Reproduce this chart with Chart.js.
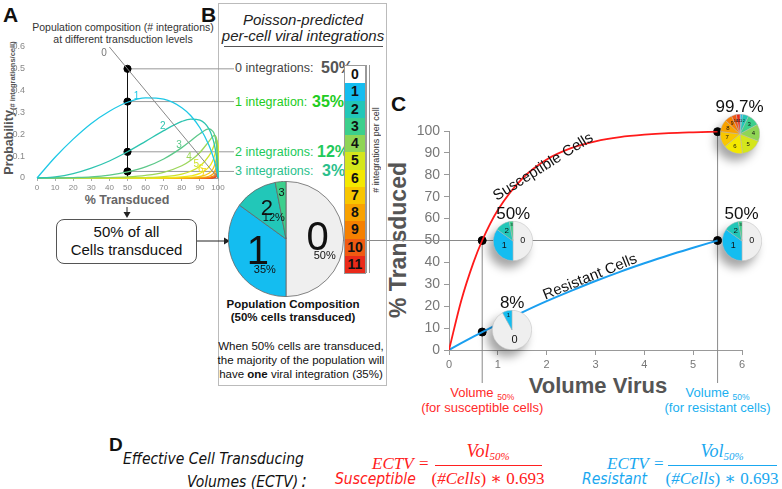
<!DOCTYPE html>
<html>
<head>
<meta charset="utf-8">
<script src="https://cdn.jsdelivr.net/npm/chart.js@4.4.1/dist/chart.umd.min.js"></script>
<style>
  body { margin:0; width:782px; height:489px; position:relative; overflow:hidden; background:#fff;
         font-family:"Liberation Sans", Arial, sans-serif; color:#111; }
  canvas { position:absolute; }
  .t { position:absolute; white-space:nowrap; }
  .c { position:absolute; white-space:nowrap; transform:translate(-50%,-50%); }
  .narrow { font-family:"Liberation Sans Narrow","DejaVu Sans Condensed",sans-serif; font-style:italic; }
  .math { font-family:"Liberation Serif","DejaVu Serif",serif; }
  #bar { position:absolute; left:344px; top:65px; width:20px; height:207px; border:1px solid #999;
         display:flex; flex-direction:column; z-index:3; }
  #bar div { flex:1; text-align:center; font:bold 14px "Liberation Sans",Arial; line-height:17px; }
  .pie { filter:drop-shadow(-5px 7px 5px rgba(0,0,0,0.35)); z-index:4; }
</style>
</head>
<body>

<!-- panel letters -->
<div class="t" style="left:3px;top:3px;font:bold 21px 'Liberation Sans'">A</div>
<div class="t" style="left:201px;top:3px;font:bold 21px 'Liberation Sans'">B</div>
<div class="t" style="left:391px;top:92px;font:bold 21px 'Liberation Sans'">C</div>
<div class="t" style="left:109px;top:434px;font:bold 19px 'Liberation Sans'">D</div>

<!-- panel A text -->
<div class="c" style="left:123px;top:27px;font-size:10.5px;color:#333">Population composition (# integrations)</div>
<div class="c" style="left:123px;top:39px;font-size:10.5px;color:#333">at different transduction levels</div>
<div class="c" style="left:9px;top:108px;transform:translate(-50%,-50%) rotate(-90deg);font:bold 12.5px 'Liberation Sans';color:#555">Probability<span style="font-size:7.5px;vertical-align:-2px">(# integrations/cell)</span></div>
<div class="c" style="left:127px;top:200px;font:bold 12.5px 'Liberation Sans';color:#666">% Transduced</div>
<div class="t" style="left:56px;top:219px;width:139px;height:40px;border:1px solid #555;border-radius:8px;text-align:center;font-size:15px;line-height:18px;padding-top:3px">50% of all<br>Cells transduced</div>

<svg class="t" style="left:0;top:0;z-index:1" width="240" height="270">
  <line x1="127" y1="207" x2="127" y2="213" stroke="#222" stroke-width="1"/>
  <polygon points="123.5,212 130.5,212 127,218" fill="#222"/>
  <line x1="197" y1="241" x2="225" y2="241" stroke="#222" stroke-width="1"/>
  <polygon points="224,237.5 224,244.5 230,241" fill="#222"/>
</svg>

<!-- panel B -->
<div class="t" style="left:218px;top:3px;width:167px;height:381px;border:1px solid #bbb"></div>
<div class="c" style="left:303px;top:19px;font:italic 15px 'Liberation Sans';color:#222">Poisson-predicted</div>
<div class="c" style="left:303px;top:35px;font:italic 15px 'Liberation Sans';color:#222">per-cell viral integrations</div>
<div class="t" style="left:224px;top:46px;width:159px;border-top:1px solid #555"></div>

<div class="t" style="left:235px;top:61px;font-size:12.5px;color:#444">0 integrations:</div>
<div class="t" style="left:321px;top:59px;font:bold 16px 'Liberation Sans';color:#555">50%</div>
<div class="t" style="left:235px;top:95px;font-size:12.5px;color:#22cc22">1 integration:</div>
<div class="t" style="left:312px;top:93px;font:bold 16px 'Liberation Sans';color:#22cc22">35%</div>
<div class="t" style="left:235px;top:145px;font-size:12.5px;color:#22c95a">2 integrations:</div>
<div class="t" style="left:317px;top:143px;font:bold 16px 'Liberation Sans';color:#22c95a">12%</div>
<div class="t" style="left:235px;top:164px;font-size:12.5px;color:#2bbf8c">3 integrations:</div>
<div class="t" style="left:322px;top:162px;font:bold 16px 'Liberation Sans';color:#2bbf8c">3%</div>

<div id="bar"></div>
<div class="t" style="left:366px;top:65px;width:2px;height:208px;border-left:1px solid #999;border-right:1px solid #999;z-index:3"></div>
<div class="c" style="left:376px;top:150px;transform:translate(-50%,-50%) rotate(-90deg);font-size:9px;color:#333;background:#fff;z-index:3">&nbsp;# integrations per cell&nbsp;</div>

<div class="c" style="left:293px;top:304px;font:bold 11.5px 'Liberation Sans'">Population Composition</div>
<div class="c" style="left:293px;top:317px;font:bold 11.5px 'Liberation Sans'">(50% cells transduced)</div>
<div class="c" style="left:301px;top:346px;font-size:11.5px">When 50% cells are transduced,</div>
<div class="c" style="left:301px;top:360px;font-size:11.5px">the majority of the population will</div>
<div class="c" style="left:301px;top:374px;font-size:11.5px">have <b>one</b> viral integration (35%)</div>

<!-- panel C text -->
<div class="c" style="left:398px;top:240px;transform:translate(-50%,-50%) rotate(-90deg);font:bold 23px 'Liberation Sans';color:#555">% Transduced</div>
<div class="c" style="left:598px;top:386px;font:bold 22px 'Liberation Sans';color:#555">Volume Virus</div>

<!-- panel D -->
<div class="t narrow" style="left:123px;top:450px;font-size:15.5px">Effective Cell Transducing</div>
<div class="t narrow" style="left:187px;top:469px;font-size:15.5px">Volumes (ECTV)<span style="font-size:19px;margin-left:3px">:</span></div>

<div class="t narrow" style="left:335px;top:470px;font-size:15.5px;color:#ff2020">Susceptible</div>
<div class="t math" style="left:372px;top:454px;font-style:italic;font-size:17px;color:#ff2020">ECTV</div>
<div class="t math" style="left:419px;top:454px;font-size:17px;color:#ff2020">=</div>
<div class="c math" style="left:488px;top:451px;font-size:18px;color:#ff2020"><i>Vol</i><span style="font-size:11px;vertical-align:-3px"><i>50%</i></span></div>
<div class="t" style="left:435px;top:465px;width:107px;border-top:1.3px solid #ff2020"></div>
<div class="c math" style="left:488px;top:478px;font-size:17px;color:#ff2020">(<i>#Cells</i>) ∗ 0.693</div>

<div class="t narrow" style="left:582px;top:470px;font-size:15.5px;color:#1aa8f0">Resistant</div>
<div class="t math" style="left:607px;top:454px;font-style:italic;font-size:17px;color:#1aa8f0">ECTV</div>
<div class="t math" style="left:654px;top:454px;font-size:17px;color:#1aa8f0">=</div>
<div class="c math" style="left:722px;top:451px;font-size:18px;color:#1aa8f0"><i>Vol</i><span style="font-size:11px;vertical-align:-3px"><i>50%</i></span></div>
<div class="t" style="left:668px;top:465px;width:109px;border-top:1.3px solid #1aa8f0"></div>
<div class="c math" style="left:722px;top:478px;font-size:17px;color:#1aa8f0">(<i>#Cells</i>) ∗ 0.693</div>

<canvas id="chartA" width="234" height="210" style="left:0;top:0;z-index:2"></canvas>
<canvas id="chartC" width="442" height="295" style="left:340px;top:95px;z-index:1"></canvas>
<canvas id="pieB" width="116" height="116" style="left:228px;top:181px;z-index:3"></canvas>

<script>
Chart.defaults.font.family = '"Liberation Sans", Arial, sans-serif';

// ---- panel A: Poisson probability of k integrations vs % transduced ----
const transduced = [0, 10, 20, 30, 40, 50, 60, 70, 80, 85, 90, 95, 97, 98, 99, 99.5, 99.8, 99.9, 100];
const prob0 = [{ x: 40, y: 0.6 }, { x: 100, y: 0 }];
const prob1 = [0, .095, .178, .250, .306, .347, .367, .361, .322, .285, .230, .150, .105, .078, .046, .026, .012, .007, 0];
const prob2 = [0, .005, .020, .045, .078, .120, .168, .217, .259, .270, .265, .225, .184, .153, .106, .069, .039, .024, 0];
const prob3 = [0, 0, .002, .005, .013, .028, .051, .087, .139, .171, .203, .225, .215, .200, .163, .122, .080, .055, 0];
const prob4 = [0, 0, 0, .001, .002, .005, .012, .026, .056, .081, .117, .168, .189, .195, .187, .162, .124, .095, 0];
const prob5 = [0, 0, 0, 0, 0, .001, .002, .006, .018, .031, .054, .101, .132, .153, .172, .172, .154, .131, 0];
const prob6 = [0, 0, 0, 0, 0, 0, 0, .001, .005, .010, .021, .050, .077, .100, .132, .152, .160, .151, 0];
const prob7 = [0, 0, 0, 0, 0, 0, 0, 0, .001, .003, .007, .022, .039, .056, .087, .115, .142, .149, 0];
const prob8 = [0, 0, 0, 0, 0, 0, 0, 0, 0, 0, .002, .008, .017, .027, .050, .076, .110, .129, 0];
const prob9 = [0, 0, 0, 0, 0, 0, 0, 0, 0, 0, 0, .003, .007, .012, .026, .045, .076, .099, 0];
const prob10 = [0, 0, 0, 0, 0, 0, 0, 0, 0, 0, 0, 0, .002, .005, .012, .024, .047, .068, 0];
const prob11 = [0, 0, 0, 0, 0, 0, 0, 0, 0, 0, 0, 0, 0, .002, .005, .012, .027, .043, 0];
const probCurves = [prob1, prob2, prob3, prob4, prob5, prob6, prob7, prob8, prob9, prob10, prob11];

// composition at 50% transduced (percent of cells with 0,1,2,3 integrations)
const halfComposition = [50, 35, 12, 3];
const halfPoint = 50;

// curve labels in A (label, % transduced, probability)
const curveLabelsA = [['0', 37, 0.57], ['1', 55, 0.375], ['2', 69.5, 0.238], ['3', 78.5, 0.151],
                      ['4', 84, 0.096], ['5', 88, 0.064], ['6', 90.5, 0.041], ['7', 92, 0.023]];

const intColors = ['#efefef', '#14bdf0', '#22c7b8', '#3ccf8c', '#8fd555', '#d4e61c',
                   '#f4e800', '#f8c600', '#f8a200', '#f58000', '#f05a12', '#ea2a1a'];
const curveColors = ['#888888', '#1ec8e6', '#2ec4b0', '#5cc88a', '#9cd65a', '#cfe22a',
                     '#eee81a', '#f6cc10', '#f6a810', '#f48414', '#f05a18', '#e8301c'];

// ---- panel C: % transduced vs volume of virus ----
const volume = [0, 0.25, 0.5, 0.68, 1, 1.5, 2, 2.5, 3, 3.5, 4, 4.5, 5, 5.5];
const susceptible = [0, 22.5, 39.9, 50, 63.9, 78.3, 87.0, 92.2, 95.3, 97.2, 98.3, 99.0, 99.4, 99.7];
const resistant = [0, 3.1, 6.1, 8.2, 11.8, 17.2, 22.3, 27.0, 31.5, 35.7, 39.6, 43.3, 46.7, 50];
const vol50 = [0.68, 5.5];

const pie8 = [92, 8];
const pie997 = [0.3, 1.8, 5, 10, 14, 17, 16, 13, 10, 6, 4, 3];

// colour bar in B
const bar = document.getElementById('bar');
intColors.forEach((col, i) => {
  const d = document.createElement('div');
  d.style.background = i === 0 ? '#fff' : col;
  d.textContent = i;
  bar.appendChild(d);
});

// ---------- chart A ----------
const guideA = {
  id: 'guideA',
  beforeDatasetsDraw(chart) {
    const { ctx, scales: { x, y } } = chart;
    const px = x.getPixelForValue(halfPoint);
    ctx.save();
    ctx.strokeStyle = '#999';
    ctx.lineWidth = 1;
    halfComposition.forEach(v => {
      const py = y.getPixelForValue(v / 100);
      ctx.beginPath();
      ctx.moveTo(px, py);
      ctx.lineTo(chart.width, py);
      ctx.stroke();
    });
    ctx.strokeStyle = '#111';
    ctx.beginPath();
    ctx.moveTo(px, y.getPixelForValue(0));
    ctx.lineTo(px, y.getPixelForValue(halfComposition[0] / 100));
    ctx.stroke();
    ctx.restore();
  },
  afterDatasetsDraw(chart) {
    const { ctx, scales: { x, y } } = chart;
    ctx.save();
    ctx.font = '10px "Liberation Sans", Arial';
    ctx.textAlign = 'center';
    ctx.textBaseline = 'middle';
    curveLabelsA.forEach(([txt, tx, ty], i) => {
      ctx.fillStyle = i === 0 ? '#777' : curveColors[i];
      ctx.fillText(txt, x.getPixelForValue(tx), y.getPixelForValue(ty));
    });
    ctx.restore();
  }
};

const datasetsA = [{
  data: prob0, borderColor: curveColors[0], borderWidth: 1, pointRadius: 0, clip: false
}];
probCurves.forEach((arr, k) => {
  datasetsA.push({
    data: arr.map((v, i) => ({ x: transduced[i], y: v })),
    borderColor: curveColors[k + 1], borderWidth: 1.3, pointRadius: 0,
    cubicInterpolationMode: 'monotone', clip: false
  });
});
datasetsA.push({
  type: 'scatter',
  data: halfComposition.map(v => ({ x: halfPoint, y: v / 100 })),
  backgroundColor: '#000', borderColor: '#000', pointRadius: 3.6, clip: false
});

new Chart(document.getElementById('chartA'), {
  type: 'line',
  data: { datasets: datasetsA },
  plugins: [guideA],
  options: {
    responsive: false, animation: false,
    layout: { padding: { top: 47, right: 16, left: 0, bottom: 0 } },
    plugins: { legend: { display: false }, tooltip: { enabled: false } },
    scales: {
      x: {
        type: 'linear', min: 0, max: 100,
        ticks: { stepSize: 10, font: { size: 8 }, color: '#888', padding: 2, maxRotation: 0 },
        grid: { drawOnChartArea: false, tickLength: 3, color: '#aaa' },
        border: { color: '#999' },
        afterFit(s) { s.height = 32; }
      },
      y: {
        min: 0, max: 0.6,
        ticks: { stepSize: 0.1, font: { size: 9 }, color: '#888', padding: 4,
                 callback: v => v === 0 ? '0' : v.toFixed(1) },
        grid: { display: false },
        border: { display: false },
        afterFit(s) { s.width = 37; }
      }
    }
  }
});

// ---------- pie label plugin ----------
const sliceText = {
  id: 'sliceText',
  afterDatasetsDraw(chart, args, opts) {
    const { ctx } = chart;
    chart.getDatasetMeta(0).data.forEach((arc, i) => {
      const name = opts.names[i];
      if (!name) return;
      const p = arc.getProps(['x', 'y', 'startAngle', 'endAngle', 'outerRadius'], true);
      const mid = (p.startAngle + p.endAngle) / 2;
      const r = p.outerRadius * opts.radii[i];
      const x = p.x + Math.cos(mid) * r;
      const y = p.y + Math.sin(mid) * r;
      ctx.save();
      ctx.fillStyle = '#111';
      ctx.textAlign = 'center';
      ctx.textBaseline = 'middle';
      ctx.font = opts.sizes[i] + 'px "Liberation Sans", Arial';
      ctx.fillText(name, x, y);
      if (opts.pcts && opts.pcts[i]) {
        ctx.font = '11px "Liberation Sans", Arial';
        ctx.fillText(opts.pcts[i], x + 7, y + opts.sizes[i] * 0.42);
      }
      ctx.restore();
    });
  }
};

function makePie(canvas, values, textOpts, border) {
  return new Chart(canvas, {
    type: 'pie',
    data: {
      labels: values.map((v, i) => String(i)),
      datasets: [{
        data: values,
        backgroundColor: values.map((v, i) => intColors[i]),
        borderColor: border.color, borderWidth: border.width
      }]
    },
    plugins: [sliceText],
    options: {
      responsive: false, animation: false,
      layout: { padding: 0 },
      plugins: { legend: { display: false }, tooltip: { enabled: false }, sliceText: textOpts }
    }
  });
}

makePie(document.getElementById('pieB'), halfComposition, {
  names: ['0', '1', '2', '3'], sizes: [40, 40, 22, 11], radii: [0.55, 0.55, 0.62, 0.8],
  pcts: ['50%', '35%', '12%', '']
}, { color: '#666', width: 0.8 });

// ---------- chart C ----------
const guideC = {
  id: 'guideC',
  beforeDatasetsDraw(chart) {
    const { ctx, scales: { x, y } } = chart;
    const y50 = y.getPixelForValue(50);
    const xs = x.getPixelForValue(vol50[0]);
    const xr = x.getPixelForValue(vol50[1]);
    const bottom = chart.height - 7;
    ctx.save();
    ctx.strokeStyle = '#8a8a8a';
    ctx.lineWidth = 1;
    ctx.beginPath();
    ctx.moveTo(0, y50); ctx.lineTo(xr, y50);
    ctx.moveTo(xs, y50); ctx.lineTo(xs, bottom);
    ctx.moveTo(xr, y.getPixelForValue(susceptible[susceptible.length - 1])); ctx.lineTo(xr, bottom);
    ctx.stroke();
    ctx.restore();
  },
  afterDatasetsDraw(chart) {
    const { ctx, scales: { x, y } } = chart;
    const put = (txt, v, t, deg) => {
      ctx.save();
      ctx.translate(x.getPixelForValue(v), y.getPixelForValue(t));
      ctx.rotate(deg * Math.PI / 180);
      ctx.font = '15px "Liberation Sans", Arial';
      ctx.fillStyle = '#111';
      ctx.textAlign = 'center';
      ctx.textBaseline = 'middle';
      ctx.fillText(txt, 0, 0);
      ctx.restore();
    };
    put('Susceptible Cells', 1.93, 83.6, -32);
    put('Resistant Cells', 2.89, 33.3, -22);
  }
};

const last = volume.length - 1;
const chartC = new Chart(document.getElementById('chartC'), {
  type: 'line',
  data: {
    datasets: [{
      data: volume.map((v, i) => ({ x: v, y: susceptible[i] })),
      borderColor: '#ff1a1a', borderWidth: 1.8, pointRadius: 0, cubicInterpolationMode: 'monotone'
    }, {
      data: volume.map((v, i) => ({ x: v, y: resistant[i] })),
      borderColor: '#1a9ff0', borderWidth: 2, pointRadius: 0, cubicInterpolationMode: 'monotone'
    }, {
      type: 'scatter',
      data: [{ x: volume[3], y: susceptible[3] }, { x: volume[3], y: resistant[3] },
             { x: volume[last], y: resistant[last] }, { x: volume[last], y: susceptible[last] }],
      backgroundColor: '#000', borderColor: '#000', pointRadius: 4, clip: false
    }]
  },
  plugins: [guideC],
  options: {
    responsive: false, animation: false,
    layout: { padding: { top: 36, right: 40, left: 0, bottom: 0 } },
    plugins: { legend: { display: false }, tooltip: { enabled: false } },
    scales: {
      x: {
        type: 'linear', min: 0, max: 6,
        ticks: { stepSize: 1, font: { size: 11 }, color: '#777', padding: 3, maxRotation: 0 },
        grid: { drawOnChartArea: false, tickLength: 5, color: '#999' },
        border: { color: '#999' },
        afterFit(s) { s.height = 40; }
      },
      y: {
        min: 0, max: 100,
        ticks: { stepSize: 10, font: { size: 14 }, color: '#777', padding: 4 },
        grid: { drawOnChartArea: false, tickLength: 5, color: '#999' },
        border: { color: '#999' },
        afterFit(s) { s.width = 109; }
      }
    }
  }
});

// small pies anchored to the data points of chart C
const cLeft = 340, cTop = 95;
const sx = chartC.scales.x, sy = chartC.scales.y;
const smallPies = [
  { v: volume[3], t: susceptible[3], dx: 31, dy: 0, label: '50%', values: halfComposition,
    names: ['0', '1', '2', '3'], sizes: [9, 9, 8, 4], radii: [0.5, 0.5, 0.6, 0.8] },
  { v: volume[3], t: resistant[3], dx: 30, dy: -2, label: '8%', values: pie8,
    names: ['0', '1'], sizes: [11, 6], radii: [0.5, 0.75] },
  { v: volume[last], t: resistant[last], dx: 24, dy: 0, label: '50%', values: halfComposition,
    names: ['0', '1', '2', '3'], sizes: [9, 9, 8, 4], radii: [0.5, 0.5, 0.6, 0.8] },
  { v: volume[last], t: susceptible[last], dx: 22, dy: 2, label: '99.7%', values: pie997,
    names: ['', '1', '2', '3', '4', '5', '6', '7', '8', '9', '10', '11'],
    sizes: [4, 4, 4, 6, 6, 6, 6, 6, 6, 5, 4, 4], radii: pie997.map(() => 0.68) }
];
smallPies.forEach(p => {
  const cx = cLeft + sx.getPixelForValue(p.v) + p.dx;
  const cy = cTop + sy.getPixelForValue(p.t) + p.dy;
  const cv = document.createElement('canvas');
  cv.width = 40; cv.height = 40;
  cv.className = 'pie';
  cv.style.left = (cx - 20) + 'px';
  cv.style.top = (cy - 20) + 'px';
  document.body.appendChild(cv);
  makePie(cv, p.values, { names: p.names, sizes: p.sizes, radii: p.radii }, { color: '#bbb', width: 0.5 });
  const lab = document.createElement('div');
  lab.className = 'c';
  lab.style.cssText = `left:${cx}px;top:${cy - 27}px;font-size:17px;z-index:4`;
  lab.textContent = p.label;
  document.body.appendChild(lab);
});

// volume-50 captions under chart C
const captions = [{ v: vol50[0], color: '#ff2a2a', line2: '(for susceptible cells)' },
                  { v: vol50[1], color: '#1ab0f0', line2: '(for resistant cells)' }];
captions.forEach(c => {
  const cx = cLeft + sx.getPixelForValue(c.v);
  const a = document.createElement('div');
  a.className = 'c';
  a.style.cssText = `left:${cx}px;top:393px;font-size:13px;color:${c.color}`;
  a.innerHTML = 'Volume <span style="font-size:8.5px;vertical-align:-3px">50%</span>';
  document.body.appendChild(a);
  const b = document.createElement('div');
  b.className = 'c';
  b.style.cssText = `left:${cx}px;top:407px;font-size:13px;color:${c.color}`;
  b.textContent = c.line2;
  document.body.appendChild(b);
});
</script>
</body>
</html>
